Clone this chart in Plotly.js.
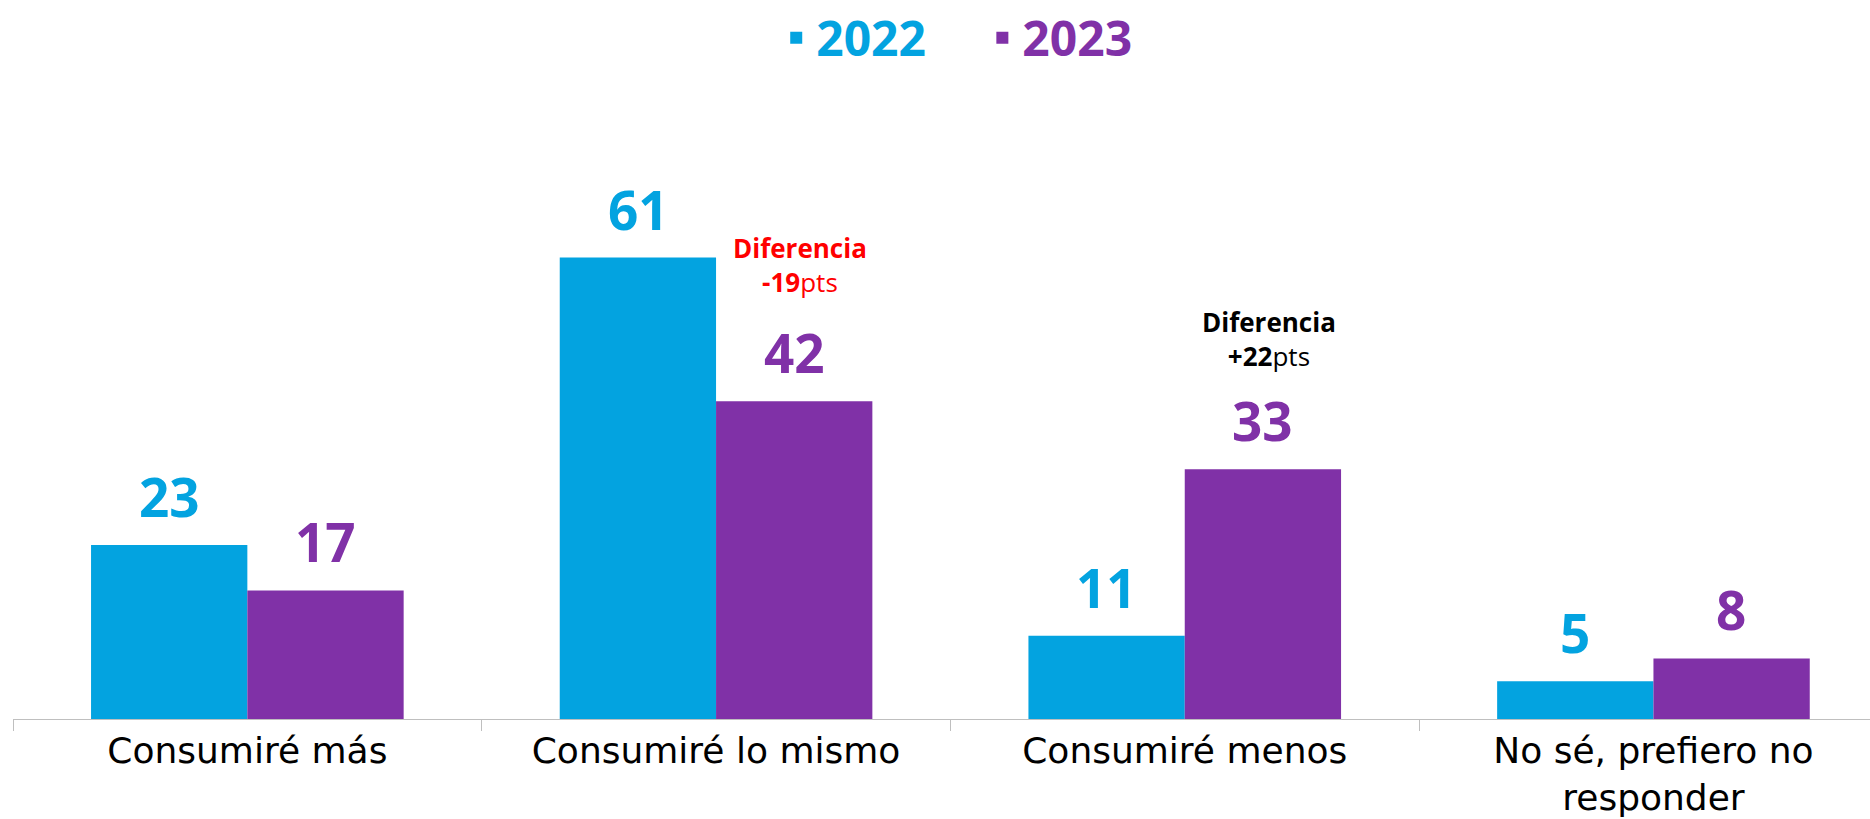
<!DOCTYPE html>
<html>
<head>
<meta charset="utf-8">
<script src="https://cdn.plot.ly/plotly-3.0.1.min.js"></script>
<style>
  html, body { margin: 0; padding: 0; background: #fff; }
  #chart { width: 1870px; height: 819px; }
</style>
</head>
<body>
<div id="chart"></div>
<script>
// Categories and values
const categories = ['Consumiré más', 'Consumiré lo mismo', 'Consumiré menos', 'No sé, prefiero no<br>responder'];
const values2022 = [23, 61, 11, 5];
const values2023 = [17, 42, 33, 8];
const seriesNames = ['2022', '2023'];

// Difference callouts (category index, text, colour, height)
const diffNotes = [
    { cat: 1, label: '-19', color: '#FF0000', y: 60.0 },
    { cat: 2, label: '+22', color: '#000000', y: 50.2 }
];

const color2022 = '#03A3E0';
const color2023 = '#8031A7';
const numFont = 'Open Sans, sans-serif';

const bar2022 = {
    x: categories,
    y: values2022,
    type: 'bar',
    name: seriesNames[0],
    marker: { color: color2022 },
    legend: 'legend',
    hoverinfo: 'skip'
};

const bar2023 = {
    x: categories,
    y: values2023,
    type: 'bar',
    name: seriesNames[1],
    marker: { color: color2023 },
    legend: 'legend2',
    hoverinfo: 'skip'
};

// Bar value labels, offset to sit above each bar of the group
const groupOffset = 78;
let annotations = [];
values2022.forEach((v, i) => {
    annotations.push({
        x: categories[i], y: v, xref: 'x', yref: 'y',
        text: '<b>' + v + '</b>', showarrow: false,
        xshift: -groupOffset, yshift: 10, yanchor: 'bottom',
        font: { family: numFont, size: 53, color: color2022 }
    });
});
values2023.forEach((v, i) => {
    annotations.push({
        x: categories[i], y: v, xref: 'x', yref: 'y',
        text: '<b>' + v + '</b>', showarrow: false,
        xshift: groupOffset, yshift: 10, yanchor: 'bottom',
        font: { family: numFont, size: 53, color: color2023 }
    });
});

// "Diferencia" callouts
diffNotes.forEach(d => {
    annotations.push({
        x: categories[d.cat], y: d.y, xref: 'x', yref: 'y',
        text: '<b>Diferencia</b><br><b>' + d.label + '</b>pts',
        showarrow: false, xshift: groupOffset + 6,
        align: 'center', yanchor: 'middle',
        font: { family: numFont, size: 26, color: d.color }
    });
});

const plotLeft = 13;
const plotWidth = 1870 - plotLeft;
const catWidth = 468.7;

const layout = {
    width: 1870,
    height: 819,
    margin: { l: plotLeft, r: 0, t: 100, b: 100, autoexpand: false },
    paper_bgcolor: '#ffffff',
    plot_bgcolor: '#ffffff',
    barmode: 'group',
    bargap: 0.333,
    bargroupgap: 0,
    showlegend: true,
    xaxis: {
        type: 'category',
        range: [-0.5, -0.5 + plotWidth / catWidth],
        showline: true,
        linecolor: '#BFBFBF',
        linewidth: 1,
        ticks: 'outside',
        tickson: 'boundaries',
        ticklen: 11,
        tickcolor: '#BFBFBF',
        showgrid: false,
        automargin: false,
        tickfont: { family: 'DejaVu Sans, sans-serif', size: 36, color: '#000000' }
    },
    yaxis: {
        range: [0, 81.83],
        visible: false,
        showgrid: false,
        zeroline: false
    },
    legend: {
        orientation: 'h',
        x: 0.411, xanchor: 'left',
        yref: 'container', y: 1, yanchor: 'top',
        font: { family: numFont, size: 48, color: color2022, weight: 'bold' },
        bgcolor: 'rgba(0,0,0,0)'
    },
    legend2: {
        orientation: 'h',
        x: 0.522, xanchor: 'left',
        yref: 'container', y: 1, yanchor: 'top',
        font: { family: numFont, size: 48, color: color2023, weight: 'bold' },
        bgcolor: 'rgba(0,0,0,0)'
    },
    annotations: annotations
};

Plotly.newPlot('chart', [bar2022, bar2023], layout, { staticPlot: true });
</script>
</body>
</html>
